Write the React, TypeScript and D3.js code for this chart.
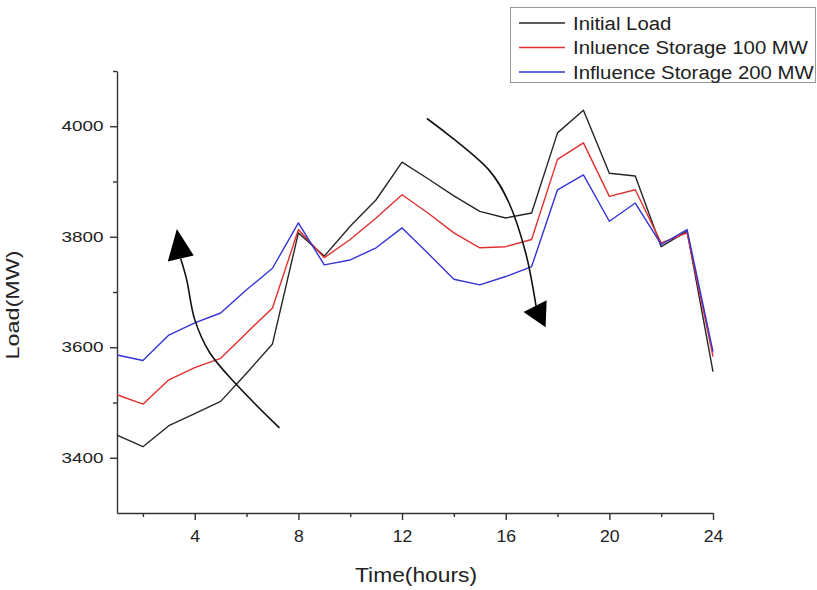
import { useEffect, useRef } from "react";
import * as d3 from "d3";

const hours = [1, 2, 3, 4, 5, 6, 7, 8, 9, 10, 11, 12, 13, 14, 15, 16, 17, 18, 19, 20, 21, 22, 23, 24];

const initialLoad = [3441, 3420, 3458, 3480, 3502, 3553, 3606, 3807, 3765, 3819, 3867, 3935,
    3905, 3874, 3846, 3834, 3843, 3988, 4029, 3915, 3910, 3782, 3810, 3556];
const storage100 = [3514, 3497, 3541, 3563, 3580, 3626, 3671, 3813, 3762, 3795, 3834, 3876,
    3843, 3807, 3780, 3782, 3795, 3940, 3970, 3873, 3885, 3789, 3807, 3583];
const storage200 = [3586, 3576, 3622, 3644, 3662, 3704, 3743, 3825, 3749, 3758, 3780, 3816,
    3770, 3723, 3713, 3728, 3746, 3885, 3912, 3828, 3861, 3786, 3813, 3592];

const seriesNames = ["Initial Load", "Inluence Storage 100 MW", "Influence Storage 200 MW"];
const seriesColors = ["#262626", "#e0302f", "#3434d6"];

const yMajorTicks = [3400, 3600, 3800, 4000];
const yMinorTicks = [3500, 3700, 3900, 4100];
const xMajorTicks = [4, 8, 12, 16, 20, 24];
const xMinorTicks = [2, 6, 10, 14, 18, 22];

// annotation arrows, given as (hour, MW)
const upArrowShaft = [[7.27, 3454], [5.62, 3532], [4.58, 3590], [4.0, 3650], [3.69, 3722], [3.46, 3760]];
const upArrowHead = [[3.31, 3814], [2.96, 3755], [3.96, 3766]];
const downArrowShaft = [[12.96, 4014], [15.35, 3921], [16.12, 3862], [16.77, 3771], [17.17, 3675]];
const downArrowHead = [[17.54, 3636], [16.69, 3664], [17.58, 3685]];

const FONT = "'Liberation Sans', Arial, sans-serif";

export default function App() {
    const svgRef = useRef<SVGSVGElement>(null);

    useEffect(() => {
        const svg = d3.select(svgRef.current);
        svg.selectAll("*").remove();

        const x = d3.scaleLinear().domain([1, 24]).range([117, 713]);
        const y = d3.scaleLinear().domain([3300, 4100]).range([513, 71]);

        // y axis
        const yAxis = svg.append("g")
            .attr("transform", "translate(117,0)")
            .call(d3.axisLeft(y).tickValues(yMajorTicks).tickSize(7).tickSizeOuter(0).tickPadding(3).tickFormat(d3.format("d")));
        yAxis.append("g").call(d3.axisLeft(y).tickValues(yMinorTicks).tickSize(4).tickFormat(() => ""))
            .select(".domain").remove();
        yAxis.selectAll("text")
            .attr("font-size", 14)
            .attr("font-family", FONT)
            .attr("fill", "#222")
            .attr("transform", "scale(1.35,1)");

        // x axis
        const xAxis = svg.append("g")
            .attr("transform", "translate(0,513)")
            .call(d3.axisBottom(x).tickValues(xMajorTicks).tickSize(7).tickSizeOuter(0).tickPadding(11));
        xAxis.append("g").call(d3.axisBottom(x).tickValues(xMinorTicks).tickSize(4).tickFormat(() => ""))
            .select(".domain").remove();
        xAxis.selectAll("text")
            .attr("font-size", 16)
            .attr("font-family", FONT)
            .attr("fill", "#222")
            .attr("transform", "scale(1.1,1)");

        svg.selectAll(".domain, .tick line")
            .attr("stroke", "#333")
            .attr("stroke-width", 1.4);

        // series lines
        const line = d3.line<number>()
            .x((_, i) => x(hours[i]))
            .y((d) => y(d));

        [initialLoad, storage100, storage200].forEach((s, i) => {
            svg.append("path")
                .attr("d", line(s))
                .attr("fill", "none")
                .attr("stroke", seriesColors[i])
                .attr("stroke-width", 1.4)
                .attr("stroke-linejoin", "round");
        });

        // arrows
        const arrowLine = d3.line<number[]>()
            .x((d) => x(d[0]))
            .y((d) => y(d[1]))
            .curve(d3.curveCatmullRom);
        const headLine = d3.line<number[]>()
            .x((d) => x(d[0]))
            .y((d) => y(d[1]));

        [[upArrowShaft, upArrowHead], [downArrowShaft, downArrowHead]].forEach(([shaft, head]) => {
            svg.append("path")
                .attr("d", arrowLine(shaft))
                .attr("fill", "none")
                .attr("stroke", "#111")
                .attr("stroke-width", 1.6);
            svg.append("path")
                .attr("d", headLine(head) + "Z")
                .attr("fill", "#000");
        });

        // axis titles
        svg.append("text")
            .attr("transform", "translate(416,582) scale(1.14,1)")
            .attr("text-anchor", "middle")
            .attr("font-family", FONT)
            .attr("font-size", 20)
            .attr("fill", "#222")
            .text("Time(hours)");

        svg.append("text")
            .attr("transform", "translate(19,305) rotate(-90) scale(1.3,1)")
            .attr("text-anchor", "middle")
            .attr("font-family", FONT)
            .attr("font-size", 18)
            .attr("fill", "#222")
            .text("Load(MW)");

        // legend
        const legend = svg.append("g");
        legend.append("rect")
            .attr("x", 510.5)
            .attr("y", 7.5)
            .attr("width", 305)
            .attr("height", 75)
            .attr("fill", "#fff")
            .attr("stroke", "#999");

        seriesNames.forEach((name, i) => {
            const cy = 23 + i * 24.5;
            legend.append("line")
                .attr("x1", 519)
                .attr("x2", 565)
                .attr("y1", cy)
                .attr("y2", cy)
                .attr("stroke", seriesColors[i])
                .attr("stroke-width", 1.6);
            legend.append("text")
                .attr("transform", `translate(573,${cy + 6.5}) scale(1.13,1)`)
                .attr("font-family", FONT)
                .attr("font-size", 18)
                .attr("fill", "#222")
                .text(name);
        });
    }, []);

    return (
        <svg
            ref={svgRef}
            width={817}
            height={590}
            style={{ position: "absolute", left: 0, top: 0, background: "#fff" }}
        ></svg>
    );
}
